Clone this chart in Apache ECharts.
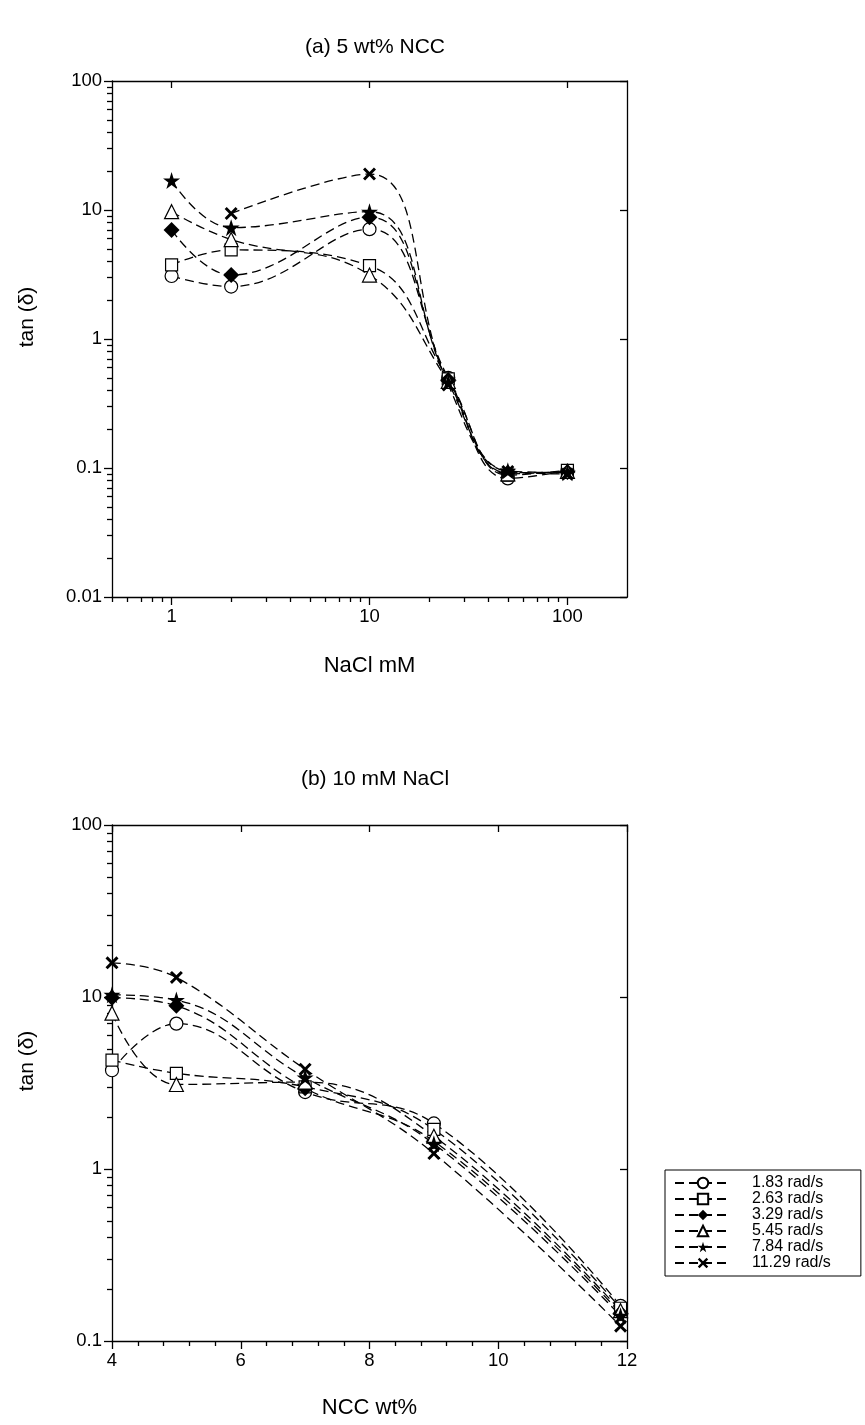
<!DOCTYPE html>
<html>
<head>
<meta charset="utf-8">
<script src="https://cdn.jsdelivr.net/npm/echarts@6/dist/echarts.min.js"></script>
<style>html,body{margin:0;padding:0;background:#fff}#c{width:865px;height:1425px}</style>
</head>
<body>
<div id="c"></div>
<script>
// ---------- data ----------
const seriesNames = ['1.83 rad/s', '2.63 rad/s', '3.29 rad/s', '5.45 rad/s', '7.84 rad/s', '11.29 rad/s'];

// (a) 5 wt% NCC : x = NaCl mM
const naclX = [1, 2, 10, 25, 50, 100];
const a_183 = [3.08, 2.55, 7.1, 0.50, 0.083, 0.095];
const a_263 = [3.75, 4.9, 3.7, 0.49, 0.088, 0.096];
const a_329 = [7.0, 3.13, 8.8, 0.48, 0.092, 0.093];
const a_545 = [9.7, 5.9, 3.13, 0.47, 0.090, 0.094];
const a_784 = [16.9, 7.3, 9.7, 0.46, 0.095, 0.092];
const a_1129 = [null, 9.4, 19.0, 0.44, 0.094, 0.090];

// (b) 10 mM NaCl : x = NCC wt%
const nccX = [4, 5, 7, 9, 11.9];
const b_183 = [3.75, 7.0, 2.8, 1.84, 0.160];
const b_263 = [4.3, 3.6, 3.0, 1.70, 0.155];
const b_329 = [9.9, 8.9, 2.95, 1.45, 0.145];
const b_545 = [8.05, 3.1, 3.2, 1.55, 0.150];
const b_784 = [10.3, 9.6, 3.4, 1.40, 0.140];
const b_1129 = [15.8, 13.0, 3.8, 1.23, 0.122];

// tick values
const xMajorA = [1, 10, 100];
const xMinorA = [0.5, 0.6, 0.7, 0.8, 0.9, 2, 3, 4, 5, 6, 7, 8, 9, 20, 30, 40, 50, 60, 70, 80, 90];
const yMajorA = [0.01, 0.1, 1, 10, 100];
const yMinorA = [0.02,0.03,0.04,0.05,0.06,0.07,0.08,0.09,0.2,0.3,0.4,0.5,0.6,0.7,0.8,0.9,2,3,4,5,6,7,8,9,20,30,40,50,60,70,80,90];
const yMajorB = [0.1, 1, 10, 100];
const yMinorB = [0.2,0.3,0.4,0.5,0.6,0.7,0.8,0.9,2,3,4,5,6,7,8,9,20,30,40,50,60,70,80,90];

// ---------- styling ----------
const FONT = 'Liberation Sans, Arial, sans-serif';
const STAR = 'path://M50,0 L61.2,34.5 L97.6,34.5 L68.2,55.9 L79.4,90.5 L50,69.1 L20.6,90.5 L31.8,55.9 L2.4,34.5 L38.8,34.5 Z';
const CROSS = 'path://M0,16 L16,0 L50,34 L84,0 L100,16 L66,50 L100,84 L84,100 L50,66 L16,100 L0,84 L34,50 Z';
const marks = [
  {symbol: 'circle', size: 13, fill: '#fff'},
  {symbol: 'rect', size: 12, fill: '#fff'},
  {symbol: 'diamond', size: 16, fill: '#000'},
  {symbol: 'triangle', size: 14, fill: '#fff'},
  {symbol: STAR, size: 17, fill: '#000'},
  {symbol: CROSS, size: 13, fill: '#000'}
];

function pairs(xs, ys) {
  const out = [];
  for (let i = 0; i < xs.length; i++) if (ys[i] != null) out.push([xs[i], ys[i]]);
  return out;
}

function mkSeries(name, k, data, xi, yi) {
  const m = marks[k];
  return {
    name: name, type: 'line', xAxisIndex: xi, yAxisIndex: yi,
    data: data, smooth: 0.42, symbol: m.symbol, symbolSize: m.size,
    showAllSymbol: true, clip: false,
    lineStyle: {color: '#000', width: 1.3, type: [9, 5]},
    itemStyle: {color: m.fill, borderColor: '#000', borderWidth: m.fill === '#fff' ? 1.2 : 0, opacity: 1},
    emphasis: {disabled: true},
    z: 3
  };
}

const labelStyle = {color: '#000', fontFamily: FONT, fontSize: 18.5};
const nameStyle = {color: '#000', fontFamily: FONT, fontSize: 22};
const lineSt = {color: '#000', width: 1.3};

function xAxesLog(grid, min, max, major, minor, name) {
  return [
    {type: 'log', logBase: 10, gridIndex: grid, min: min, max: max, position: 'bottom',
     axisLine: {show: true, onZero: false, lineStyle: lineSt},
     axisTick: {show: true, length: 8, lineStyle: lineSt, customValues: major},
     axisLabel: Object.assign({customValues: major, margin: 10, formatter: v => String(+v)}, labelStyle),
     splitLine: {show: false},
     name: name, nameLocation: 'middle', nameGap: 58, nameTextStyle: nameStyle},
    {type: 'log', logBase: 10, gridIndex: grid, min: min, max: max, position: 'bottom',
     axisLine: {show: false}, axisTick: {show: true, length: 5, lineStyle: lineSt, customValues: minor},
     axisLabel: {show: false}, splitLine: {show: false}},
    {type: 'log', logBase: 10, gridIndex: grid, min: min, max: max, position: 'top',
     axisLine: {show: true, onZero: false, lineStyle: lineSt},
     axisTick: {show: true, inside: true, length: 7, lineStyle: lineSt, customValues: major},
     axisLabel: {show: false}, splitLine: {show: false}}
  ];
}

function yAxesLog(grid, min, max, major, minor) {
  return [
    {type: 'log', logBase: 10, gridIndex: grid, min: min, max: max, position: 'left',
     axisLine: {show: true, onZero: false, lineStyle: lineSt},
     axisTick: {show: true, length: 8, lineStyle: lineSt, customValues: major},
     axisLabel: Object.assign({customValues: major, margin: 10, formatter: v => String(+v)}, labelStyle),
     splitLine: {show: false}},
    {type: 'log', logBase: 10, gridIndex: grid, min: min, max: max, position: 'left',
     axisLine: {show: false}, axisTick: {show: true, length: 5, lineStyle: lineSt, customValues: minor},
     axisLabel: {show: false}, splitLine: {show: false}},
    {type: 'log', logBase: 10, gridIndex: grid, min: min, max: max, position: 'right',
     axisLine: {show: true, onZero: false, lineStyle: lineSt},
     axisTick: {show: true, inside: true, length: 7, lineStyle: lineSt, customValues: major},
     axisLabel: {show: false}, splitLine: {show: false}}
  ];
}

const xAxes = [].concat(
  xAxesLog(0, 0.5, 200, xMajorA, xMinorA, 'NaCl mM'),
  [
    {type: 'value', gridIndex: 1, min: 4, max: 12, interval: 2, position: 'bottom',
     axisLine: {show: true, onZero: false, lineStyle: lineSt},
     axisTick: {show: true, length: 8, lineStyle: lineSt},
     minorTick: {show: true, splitNumber: 5, length: 5, lineStyle: lineSt},
     axisLabel: Object.assign({margin: 10}, labelStyle),
     splitLine: {show: false}, minorSplitLine: {show: false},
     name: 'NCC wt%', nameLocation: 'middle', nameGap: 56, nameTextStyle: nameStyle},
    {type: 'value', gridIndex: 1, min: 4, max: 12, interval: 2, position: 'top',
     axisLine: {show: true, onZero: false, lineStyle: lineSt},
     axisTick: {show: true, inside: true, length: 7, lineStyle: lineSt},
     axisLabel: {show: false}, splitLine: {show: false}}
  ]
);
const yAxes = [].concat(
  yAxesLog(0, 0.01, 100, yMajorA, yMinorA),
  yAxesLog(1, 0.1, 100, yMajorB, yMinorB)
);

const aData = [a_183, a_263, a_329, a_545, a_784, a_1129];
const bData = [b_183, b_263, b_329, b_545, b_784, b_1129];
const series = [];
aData.forEach((ys, k) => series.push(mkSeries(seriesNames[k], k, pairs(naclX, ys), 0, 0)));
bData.forEach((ys, k) => series.push(mkSeries(seriesNames[k], k, pairs(nccX, ys), 3, 3)));

const option = {
  backgroundColor: '#fff',
  animation: false,
  title: [
    {text: '(a) 5 wt% NCC', left: 370, top: 32, textAlign: 'center',
     textStyle: {color: '#000', fontFamily: FONT, fontSize: 21, fontWeight: 'normal'}},
    {text: '(b) 10 mM NaCl', left: 370, top: 764, textAlign: 'center',
     textStyle: {color: '#000', fontFamily: FONT, fontSize: 21, fontWeight: 'normal'}}
  ],
  graphic: [
    {type: 'text', x: 27, y: 317, rotation: Math.PI / 2,
     style: {text: 'tan (δ)', fill: '#000', font: '21px ' + FONT, align: 'center', verticalAlign: 'middle'}},
    {type: 'text', x: 27, y: 1061, rotation: Math.PI / 2,
     style: {text: 'tan (δ)', fill: '#000', font: '21px ' + FONT, align: 'center', verticalAlign: 'middle'}}
  ],
  grid: [
    {left: 112, top: 81, width: 515, height: 516, containLabel: false},
    {left: 112, top: 825, width: 515, height: 516, containLabel: false}
  ],
  legend: {
    data: seriesNames, orient: 'vertical', left: 665, top: 1170,
    itemWidth: 56, itemHeight: 13, itemGap: 0,
    padding: [5, 30, 5, 9], borderColor: '#000', borderWidth: 1,
    textStyle: {color: '#000', fontFamily: FONT, fontSize: 16, lineHeight: 14.5, padding: [0, 0, 0, 16]}
  },
  xAxis: xAxes,
  yAxis: yAxes,
  series: series
};

const chart = echarts.init(document.getElementById('c'), null, {renderer: 'canvas'});
chart.setOption(option);
</script>
</body>
</html>
